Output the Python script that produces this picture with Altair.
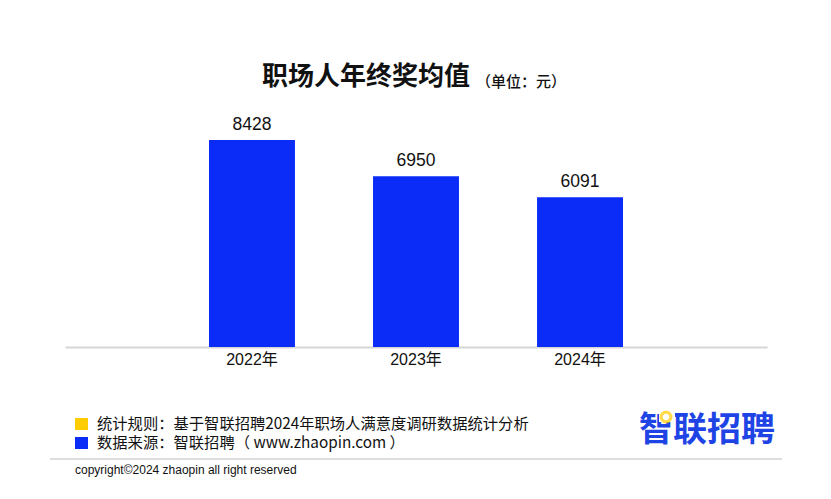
import altair as alt
import pandas as pd

years = ["2022年", "2023年", "2024年"]
values = [8428, 6950, 6091]

title_text = "职场人年终奖均值"
unit_text = "（单位：元）"
note1 = "统计规则：基于智联招聘2024年职场人满意度调研数据统计分析"
note2 = "数据来源：智联招聘（ www.zhaopin.com ）"
logo_text = "智联招聘"
copyright_text = "copyright©2024 zhaopin all right reserved"

BLUE = "#0A2CF6"
YELLOW = "#FFCC00"
CJK = "Noto Sans CJK SC"
LAT = "Liberation Sans, Arial, Noto Sans CJK SC"

df = pd.DataFrame({"year": years, "value": values})

xenc = alt.X("year:N", sort=years, title=None,
             scale=alt.Scale(paddingInner=0.476, paddingOuter=0.878),
             axis=alt.Axis(labelAngle=0, labelFontSize=16, labelFont=LAT,
                           labelColor="#111111", labelPadding=4, ticks=False,
                           domainColor="#d6d6d6", domainWidth=2))
yenc = alt.Y("value:Q", scale=alt.Scale(domain=[0, 13800], nice=False),
             axis=None)

base = alt.Chart(df)
bars = base.mark_bar(color=BLUE).encode(x=xenc, y=yenc)
labels = base.mark_text(baseline="bottom", dy=-6, fontSize=17.5, font=LAT,
                        color="#111111").encode(x=xenc, y=yenc, text="value:Q")


def txt(t, x, y, size, weight="normal", color="#111111", font=CJK, align="left"):
    return alt.Chart(pd.DataFrame({"t": [t]})).mark_text(
        align=align, baseline="middle", fontSize=size, fontWeight=weight,
        color=color, font=font
    ).encode(text="t:N", x=alt.value(x), y=alt.value(y))


def rect(x, x2, y, y2, color):
    return alt.Chart(pd.DataFrame({"t": [0]})).mark_rect(color=color).encode(
        x=alt.value(x), x2=alt.value(x2), y=alt.value(y), y2=alt.value(y2))


title = txt(title_text, 197, 69, 26, weight="bold")
unit = txt(unit_text, 411, 74, 15, weight=500)
sq1 = rect(10, 23, 410, 422, YELLOW)
sq2 = rect(10, 23, 429, 441, BLUE)
n1 = txt(note1, 32, 416, 15.3)
n2 = txt(note2, 32, 435, 15.3)
logo = txt(logo_text, 574, 423, 34, weight="bold", color="#1E44E6")
cover = rect(594, 610, 400, 414, "white")
pin = alt.Chart(pd.DataFrame({"t": [0]})).mark_point(
    shape="circle", filled=False, color=YELLOW, strokeWidth=3.2, size=95
).encode(x=alt.value(601), y=alt.value(409))
sep = alt.Chart(pd.DataFrame({"t": [0]})).mark_rule(color="#dddddd", strokeWidth=2).encode(
    x=alt.value(-15), x2=alt.value(717), y=alt.value(451))
cp = txt(copyright_text, 10, 462, 12, font=LAT)

chart = alt.layer(bars, labels, title, unit, sq1, sq2, n1, n2, logo, cover, pin, sep, cp).properties(
    width=702, height=339,
    autosize=alt.AutoSizeParams(type="none"),
    padding={"left": 57, "top": 0, "right": 56, "bottom": 144},
    background="white",
).configure_view(stroke=None)

chart.save("out.html", embed_options={"renderer": "svg", "actions": False})
